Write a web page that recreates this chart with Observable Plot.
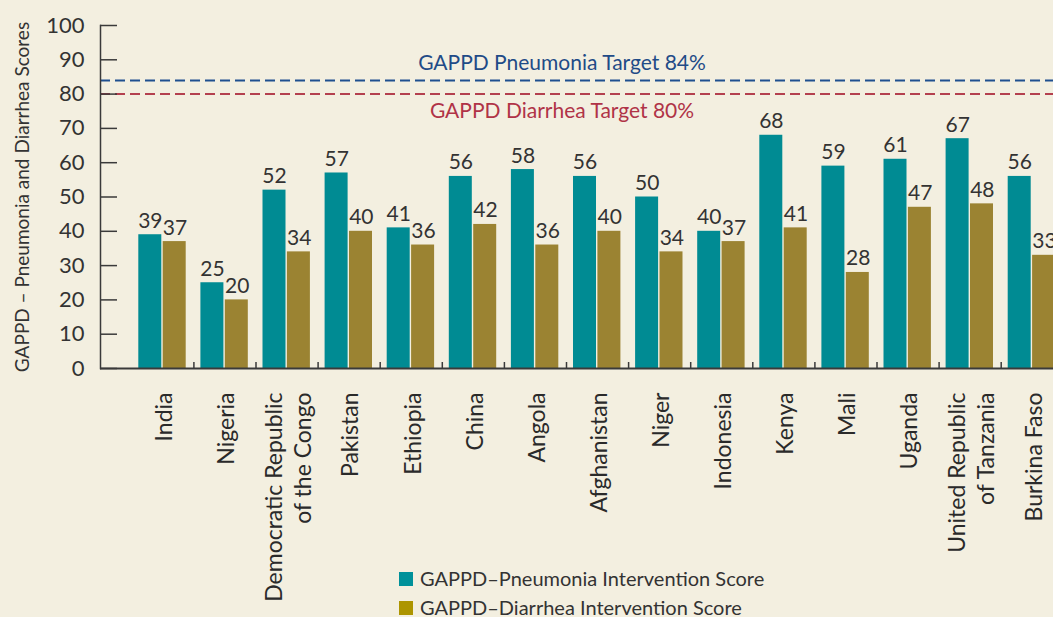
<!DOCTYPE html>
<html><head><meta charset="utf-8">
<script src="https://cdn.jsdelivr.net/npm/d3@7"></script>
<script src="https://cdn.jsdelivr.net/npm/@observablehq/plot@0.6"></script>
<style>
html,body{margin:0;padding:0;background:#f3efe0;}
#wrap{position:relative;width:1053px;height:617px;overflow:hidden;background:#f3efe0;}
#legend{position:absolute;left:399px;top:564px;font-family:Lato,sans-serif;font-size:20px;color:#333;line-height:29px;}
#legend .row{display:flex;align-items:center;white-space:nowrap;}
#legend .sw{width:14px;height:14px;margin-right:7px;display:inline-block;}
</style></head>
<body><div id="wrap"></div>
<script>
const countries = ["India","Nigeria","Democratic Republic\nof the Congo","Pakistan","Ethiopia","China","Angola","Afghanistan","Niger","Indonesia","Kenya","Mali","Uganda","United Republic\nof Tanzania","Burkina Faso"];
const pneumonia = [39,25,52,57,41,56,58,56,50,40,68,59,61,67,56];
const diarrhea  = [37,20,34,40,36,42,36,40,34,37,41,28,47,48,33];
const yTicks = [0,10,20,30,40,50,60,70,80,90,100];
const targetLabels = ["GAPPD Pneumonia Target 84%","GAPPD Diarrhea Target 80%"];
const targetValues = [84,80];
const seriesNames = ["GAPPD\u2013Pneumonia Intervention Score","GAPPD\u2013Diarrhea Intervention Score"];
const yTitle = "GAPPD \u2013 Pneumonia and Diarrhea Scores";

const teal = "#008b93", olive = "#9b8332";
const legendColors = ["#00919a","#ad9500"];
const rows = countries.map((c,i)=>({country:c, p:pneumonia[i], d:diarrhea[i]}));
const targets = targetLabels.map((t,i)=>({label:t, value:targetValues[i]}));

const chart = Plot.plot({
  width:1053, height:617,
  marginTop:25, marginBottom:249, marginLeft:100, marginRight:0,
  style:{fontFamily:"Lato, sans-serif", fontSize:"22px", background:"#f3efe0", color:"#333", overflow:"hidden"},
  x:{domain:countries, range:[131.3,1062.8], padding:0, round:false, axis:null},
  y:{domain:[0,100], axis:null},
  marks:[
    Plot.barY(rows,{x:"country", y:"p", fill:teal, insetLeft:7, insetRight:32.1}),
    Plot.barY(rows,{x:"country", y:"d", fill:olive, insetLeft:31.4, insetRight:7.7}),
    Plot.text(rows,{x:"country", y:"p", text:d=>String(d.p), dx:-12.5, dy:-7, lineAnchor:"bottom", fontSize:21, fill:"#333"}),
    Plot.text(rows,{x:"country", y:"d", text:d=>String(d.d), dx:12.2, dy:-7, lineAnchor:"bottom", fontSize:21, fill:"#333"}),
    Plot.ruleY([targets[0]],{y:"value", stroke:"#1f4f8f", strokeWidth:2, strokeDasharray:"10,5"}),
    Plot.ruleY([targets[1]],{y:"value", stroke:"#b4404f", strokeWidth:2, strokeDasharray:"10,5"}),
    Plot.text([targets[0]],{y:"value", text:"label", frameAnchor:"middle", dx:-15, dy:-10, lineAnchor:"bottom", fontSize:21, fill:"#1f4b87"}),
    Plot.text([targets[1]],{y:"value", text:"label", frameAnchor:"middle", dx:-15, dy:9, lineAnchor:"top", fontSize:21, fill:"#b03347"}),
    Plot.frame({anchor:"left", stroke:"#3a3a3a", strokeWidth:1.5}),
    Plot.ruleY([0],{stroke:"#3a3a3a", strokeWidth:2}),
    Plot.axisY(yTicks,{tickSize:-17, tickPadding:33, stroke:"#3a3a3a", strokeWidth:1.5, fontSize:22, fill:"#333", label:null}),
    Plot.axisX(countries.slice(1),{tickSize:-6, text:null, dx:-31.05, stroke:"#3a3a3a", strokeWidth:1.5, label:null}),
    Plot.text(countries,{x:d=>d, frameAnchor:"bottom", rotate:-90, textAnchor:"end", lineAnchor:"middle", dy:24, fontSize:23, lineHeight:1.26, fill:"#2a2a2a"}),
    Plot.text([yTitle],{frameAnchor:"left", dx:-78, rotate:-90, textAnchor:"middle", lineAnchor:"middle", fontSize:19, fill:"#333"})
  ]
});
const wrap = document.getElementById("wrap");
wrap.appendChild(chart);
const lg = document.createElement("div");
lg.id = "legend";
seriesNames.forEach((n,i)=>{
  const r = document.createElement("div"); r.className="row";
  const s = document.createElement("span"); s.className="sw"; s.style.background = legendColors[i];
  const t = document.createElement("span"); t.textContent = n;
  r.appendChild(s); r.appendChild(t); lg.appendChild(r);
});
wrap.appendChild(lg);
</script>
</body></html>
